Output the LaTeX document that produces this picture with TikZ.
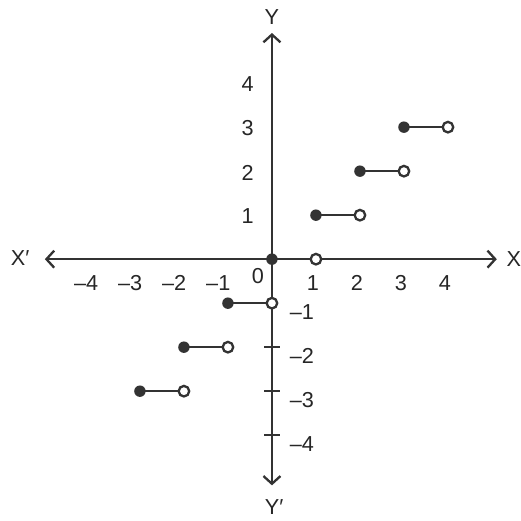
\documentclass[tikz,border=0pt]{standalone}
\usepackage{fontspec}
\setmainfont{Liberation Sans}
\usepackage{tikz}
\usetikzlibrary{arrows.meta}

\begin{document}
\begin{tikzpicture}[x=1cm,y=1cm,
    axis/.style={line width=1.5pt,draw=black!80,-{Straight Barb[length=5pt,width=11pt,line width=1.5pt]}},
    seg/.style={line width=1.5pt,draw=black!80},
    lab/.style={font=\fontsize{14}{16}\selectfont,text=black!85,inner sep=0pt}]
  \useasboundingbox (-6.18,-5.93) rectangle (5.66,5.89);
  % axes
  \coordinate (o) at (0,0);
  \coordinate (xr) at (5.11,0);
  \coordinate (xl) at (-5.16,0);
  \coordinate (yt) at (0,5.14);
  \coordinate (yb) at (0,-5.14);
  \draw[axis] (o) -- (xr);
  \draw[axis] (o) -- (xl);
  \draw[axis] (o) -- (yt);
  \draw[axis] (o) -- (yb);
  \node[lab] (X) at (5.5,0) {X};
  \node[lab] (Xp) at (-5.72,0.02) {X′};
  \node[lab] (Y) at (0,5.5) {Y};
  \node[lab] (Yp) at (0.05,-5.64) {Y′};
  % ticks
  \foreach \k in {-2,-3,-4}
    \draw[seg] (-0.18,\k) -- (0.18,\k);
  % labels
  \foreach \k in {1,...,4} {
    \node[lab] (py\k) at (-0.55,\k-0.03) {\k};
    \node[lab] (px\k) at (\k-0.07,-0.55) {\k};
  }
  \foreach \k in {1,...,4} {
    \node[lab] (ny\k) at (0.68,-\k-0.2) {\textendash\k};
    \node[lab] (nx\k) at (-\k-0.22,-0.55) {\textendash\k};
  }
  \node[lab] (zero) at (-0.32,-0.39) {0};
  % steps
  \foreach \n in {-3,...,3} {
    \coordinate (s\n) at (\n,\n);
    \coordinate (e\n) at (\n+1,\n);
    \draw[seg] (s\n) -- (e\n);
    \fill[black!80] (s\n) circle (0.13);
    \draw[seg,fill=white] (e\n) circle (0.12);
  }
\end{tikzpicture}
\end{document}
